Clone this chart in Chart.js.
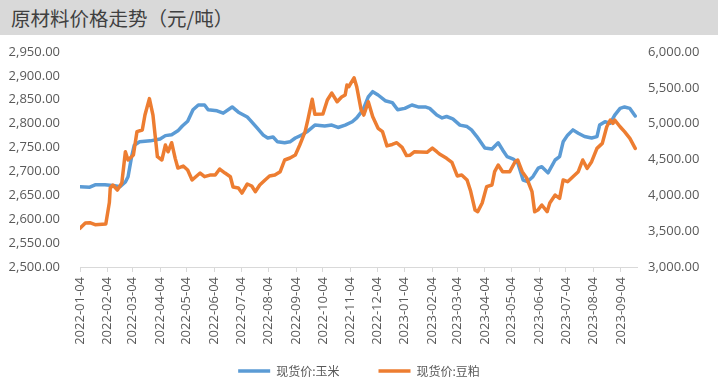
<!DOCTYPE html>
<html>
<head>
<meta charset="utf-8">
<script src="https://cdn.jsdelivr.net/npm/chart.js@4.4.0/dist/chart.umd.min.js"></script>
<style>
body { margin: 0; background: #fff; }
#title { height: 35px; line-height: 35px; background: #d9d9d9; padding-left: 11px; font-size: 19.5px; font-family: "Noto Sans CJK SC"; color: #404040; }
canvas { display: block; }
</style>
</head>
<body>
<div id="title">原材料价格走势（元/吨）</div>
<canvas id="myChart" width="718" height="352"></canvas>
<script>
// month ticks on the date axis
var tickDates = ['2022-01-04','2022-02-04','2022-03-04','2022-04-04','2022-05-04','2022-06-04','2022-07-04','2022-08-04','2022-09-04','2022-10-04','2022-11-04','2022-12-04','2023-01-04','2023-02-04','2023-03-04','2023-04-04','2023-05-04','2023-06-04','2023-07-04','2023-08-04','2023-09-04'];

// 现货价:玉米 (left axis)
var cornDates = ['2022-01-04','2022-01-15','2022-01-21','2022-02-01','2022-02-12','2022-02-18','2022-02-24','2022-02-27','2022-03-03','2022-03-06','2022-03-12','2022-03-24','2022-04-04','2022-04-10','2022-04-17','2022-04-24','2022-04-29','2022-05-05','2022-05-11','2022-05-17','2022-05-24','2022-05-28','2022-06-07','2022-06-14','2022-06-24','2022-07-01','2022-07-11','2022-07-14','2022-07-22','2022-07-29','2022-08-03','2022-08-09','2022-08-14','2022-08-22','2022-08-28','2022-09-03','2022-09-10','2022-09-16','2022-09-25','2022-10-06','2022-10-14','2022-10-21','2022-10-29','2022-11-06','2022-11-11','2022-11-18','2022-11-24','2022-11-29','2022-12-05','2022-12-13','2022-12-21','2022-12-27','2023-01-04','2023-01-12','2023-01-19','2023-01-27','2023-02-01','2023-02-09','2023-02-15','2023-02-20','2023-02-27','2023-03-07','2023-03-15','2023-03-20','2023-03-26','2023-04-04','2023-04-12','2023-04-19','2023-04-24','2023-04-29','2023-05-06','2023-05-11','2023-05-17','2023-05-22','2023-05-28','2023-06-03','2023-06-07','2023-06-14','2023-06-22','2023-06-27','2023-07-01','2023-07-06','2023-07-12','2023-07-18','2023-07-25','2023-08-02','2023-08-08','2023-08-11','2023-08-17','2023-08-23','2023-08-28','2023-09-03','2023-09-08','2023-09-14','2023-09-20'];
var cornValues = [2668,2667,2672,2672,2670,2668,2678,2689,2731,2755,2762,2764,2768,2775,2777,2785,2795,2805,2829,2839,2839,2829,2827,2822,2835,2824,2814,2808,2791,2776,2770,2772,2762,2760,2762,2770,2776,2783,2797,2795,2797,2792,2797,2804,2812,2829,2856,2867,2860,2848,2844,2829,2832,2839,2835,2835,2832,2818,2812,2815,2810,2797,2794,2787,2773,2749,2747,2760,2745,2731,2726,2718,2682,2679,2689,2707,2710,2697,2724,2731,2762,2776,2787,2780,2773,2770,2773,2797,2804,2801,2818,2832,2835,2832,2816];

// 现货价:豆粕 (right axis)
var mealDates = ['2022-01-04','2022-01-10','2022-01-15','2022-01-21','2022-02-02','2022-02-06','2022-02-07','2022-02-10','2022-02-15','2022-02-20','2022-02-24','2022-02-27','2022-03-05','2022-03-09','2022-03-15','2022-03-18','2022-03-23','2022-03-27','2022-04-01','2022-04-06','2022-04-10','2022-04-13','2022-04-17','2022-04-21','2022-04-24','2022-04-30','2022-05-05','2022-05-10','2022-05-19','2022-05-24','2022-05-30','2022-06-05','2022-06-10','2022-06-16','2022-06-22','2022-06-25','2022-07-01','2022-07-05','2022-07-11','2022-07-16','2022-07-20','2022-07-25','2022-07-31','2022-08-05','2022-08-11','2022-08-17','2022-08-22','2022-08-28','2022-09-03','2022-09-08','2022-09-14','2022-09-17','2022-09-22','2022-09-25','2022-10-04','2022-10-09','2022-10-14','2022-10-20','2022-10-25','2022-10-29','2022-10-31','2022-11-02','2022-11-08','2022-11-11','2022-11-16','2022-11-19','2022-11-24','2022-11-29','2022-12-05','2022-12-10','2022-12-15','2022-12-21','2022-12-26','2023-01-01','2023-01-06','2023-01-10','2023-01-15','2023-01-21','2023-01-29','2023-02-04','2023-02-09','2023-02-12','2023-02-20','2023-02-26','2023-03-04','2023-03-09','2023-03-15','2023-03-19','2023-03-24','2023-03-27','2023-04-01','2023-04-06','2023-04-12','2023-04-15','2023-04-19','2023-04-24','2023-05-02','2023-05-08','2023-05-11','2023-05-16','2023-05-21','2023-05-27','2023-05-30','2023-06-03','2023-06-07','2023-06-13','2023-06-16','2023-06-22','2023-06-27','2023-07-01','2023-07-06','2023-07-12','2023-07-18','2023-07-23','2023-07-28','2023-08-02','2023-08-08','2023-08-14','2023-08-19','2023-08-23','2023-08-26','2023-08-28','2023-09-03','2023-09-08','2023-09-14','2023-09-20'];
var mealValues = [3540,3614,3618,3590,3600,3900,4102,4144,4074,4172,4609,4493,4562,4888,4911,5120,5350,5120,4539,4493,4702,4608,4734,4516,4381,4409,4353,4214,4311,4260,4283,4283,4367,4311,4260,4116,4102,4032,4158,4130,4051,4144,4214,4269,4283,4330,4493,4521,4562,4702,4888,5050,5340,5130,5134,5330,5427,5306,5372,5400,5539,5515,5640,5515,5190,5120,5306,5097,4935,4888,4690,4710,4734,4670,4555,4560,4609,4605,4600,4660,4609,4576,4516,4460,4270,4283,4214,4060,3795,3772,3893,4121,4144,4330,4423,4330,4330,4469,4493,4330,4242,4051,3772,3800,3865,3772,3893,4004,3958,4214,4190,4260,4330,4493,4376,4469,4655,4725,4957,5051,5004,5051,4957,4888,4795,4655];

// days counted from 2022-01-04
function dayNum(s) {
    var p = s.split('-');
    return (Date.UTC(+p[0], +p[1] - 1, +p[2]) - Date.UTC(2022, 0, 4)) / 86400000;
}

function toPoints(dates, values) {
    var pts = [];
    for (var i = 0; i < dates.length; i++) {
        pts.push({ x: dayNum(dates[i]), y: values[i] });
    }
    return pts;
}

var tickLabels = {};
for (var i = 0; i < tickDates.length; i++) {
    tickLabels[dayNum(tickDates[i])] = tickDates[i];
}

function fmt(v) {
    return v.toLocaleString('en-US', { minimumFractionDigits: 2, maximumFractionDigits: 2 });
}

var tickFont = { family: "'Open Sans'", size: 13 };
var textColor = '#595959';

// legend keeps a wide gap between items but sits tight under the date labels
var legendGap = {
    id: 'legendGap',
    beforeUpdate: function(chart) {
        var lg = chart.legend;
        if (lg && !lg.gapPatched) {
            var origFit = lg.fit;
            lg.fit = function() {
                origFit.call(this);
                this.height = 35;
            };
            lg.gapPatched = true;
        }
    },
    afterLayout: function(chart) {
        // only move the top up, the bottom stays so nothing gets clipped
        chart.legend.top -= 26;
    }
};

var ctx = document.getElementById('myChart');
var myChart = new Chart(ctx, {
    type: 'line',
    data: {
        datasets: [{
            label: '现货价:玉米',
            data: toPoints(cornDates, cornValues),
            borderColor: '#5b9bd5',
            backgroundColor: '#5b9bd5',
            borderWidth: 3.5,
            pointRadius: 0,
            tension: 0,
            borderJoinStyle: 'round',
            borderCapStyle: 'round',
            yAxisID: 'y',
            order: 1
        }, {
            label: '现货价:豆粕',
            data: toPoints(mealDates, mealValues),
            borderColor: '#ed7d31',
            backgroundColor: '#ed7d31',
            borderWidth: 3.5,
            pointRadius: 0,
            tension: 0,
            borderJoinStyle: 'round',
            borderCapStyle: 'round',
            yAxisID: 'y2',
            order: 0
        }]
    },
    plugins: [legendGap],
    options: {
        responsive: false,
        animation: false,
        layout: { padding: { top: 17, left: 0, right: 0, bottom: 0 } },
        plugins: {
            tooltip: { enabled: false },
            legend: {
                position: 'bottom',
                labels: {
                    usePointStyle: true,
                    pointStyle: 'line',
                    pointStyleWidth: 32,
                    padding: 39,
                    color: textColor,
                    font: { family: "'Noto Sans CJK SC'", size: 12 },
                    sort: function(a, b) { return a.datasetIndex - b.datasetIndex; }
                }
            }
        },
        scales: {
            x: {
                type: 'linear',
                min: 0,
                max: 626,
                afterBuildTicks: function(scale) {
                    scale.ticks = tickDates.map(function(d) { return { value: dayNum(d) }; });
                },
                afterFit: function(scale) { scale.height = 85; },
                ticks: {
                    autoSkip: false,
                    minRotation: 90,
                    maxRotation: 90,
                    padding: 5,
                    color: textColor,
                    font: tickFont,
                    callback: function(value) { return tickLabels[value]; }
                },
                grid: { drawOnChartArea: false, drawTicks: true, tickLength: 5, color: '#d9d9d9' },
                border: { display: true, color: '#d9d9d9' }
            },
            y: {
                position: 'left',
                min: 2500,
                max: 2950,
                afterFit: function(scale) {
                    scale.width = 80;
                    scale.paddingTop = 0;
                    scale.paddingBottom = 0;
                },
                ticks: { stepSize: 50, padding: 20, color: textColor, font: tickFont, callback: function(v) { return fmt(v); } },
                grid: { display: false, drawTicks: false },
                border: { display: false }
            },
            y2: {
                position: 'right',
                min: 3000,
                max: 6000,
                afterFit: function(scale) {
                    scale.width = 81;
                    scale.paddingTop = 0;
                    scale.paddingBottom = 0;
                },
                ticks: { stepSize: 500, padding: 11, color: textColor, font: tickFont, callback: function(v) { return fmt(v); } },
                grid: { display: false, drawTicks: false },
                border: { display: false }
            }
        }
    }
});
</script>
</body>
</html>
